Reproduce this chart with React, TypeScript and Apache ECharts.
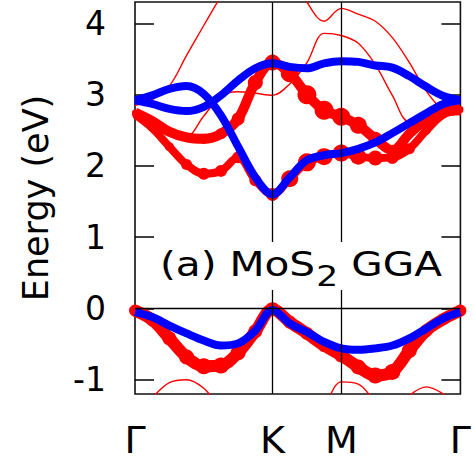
import React, { useEffect, useRef } from "react";
import * as echarts from "echarts";

const FONT = "DejaVu Sans";

// k-path sample points (Γ–K–M–Γ, path length units)
const kPath = [0, 0.1667, 0.3333, 0.5, 0.6667, 0.8333, 1.0, 1.1667, 1.3333, 1.5, 1.6667, 1.8333, 2.0, 2.165, 2.33, 2.495, 2.66, 2.825, 2.99, 3.155];
const symPoints = [0, 1.3333, 2.0, 3.155];
const symLabels = ["Γ", "K", "M", "Γ"];
const energyTicks = [-1, 0, 1, 2, 3, 4];

// blue bands
const blueValence = [-0.05, -0.12, -0.24, -0.35, -0.45, -0.52, -0.49, -0.31, -0.02, -0.21, -0.33, -0.47, -0.56, -0.58, -0.56, -0.52, -0.42, -0.28, -0.14, -0.05];
const blueCondA = [2.92, 2.99, 3.08, 3.12, 3.01, 2.71, 2.27, 1.84, 1.6, 1.84, 2.08, 2.15, 2.18, 2.24, 2.33, 2.46, 2.6, 2.74, 2.87, 2.92];
const blueCondB = [2.92, 2.87, 2.8, 2.77, 2.83, 2.99, 3.2, 3.37, 3.44, 3.39, 3.37, 3.44, 3.47, 3.46, 3.41, 3.38, 3.26, 3.11, 2.98, 2.92];

// red fat bands (energy + weight as marker diameter)
const redValence = [-0.03, -0.16, -0.42, -0.68, -0.81, -0.8, -0.62, -0.32, -0.01, -0.19, -0.35, -0.52, -0.66, -0.82, -0.94, -0.89, -0.59, -0.31, -0.15, -0.03];
const redValenceW = [12, 13, 14, 15, 16, 16, 15, 14, 14, 13, 13, 13, 14, 15, 16, 16, 15, 13, 12, 12];
const redCond1 = [2.72, 2.53, 2.27, 2.02, 1.89, 1.93, 2.12, 1.8, 1.6, 1.82, 2.05, 2.13, 2.18, 2.13, 2.11, 2.12, 2.24, 2.5, 2.72, 2.78];
const redCond1W = [6, 8, 9, 11, 12, 12, 12, 12, 13, 17, 18, 17, 17, 16, 15, 13, 11, 9, 7, 6];
const redCond2 = [2.75, 2.63, 2.48, 2.4, 2.38, 2.45, 2.66, 3.17, 3.45, 3.3, 3.0, 2.78, 2.69, 2.57, 2.38, 2.22, 2.45, 2.65, 2.76, 2.8];
const redCond2W = [6, 7, 8, 9, 10, 11, 13, 15, 16, 18, 19, 19, 18, 17, 14, 11, 9, 8, 7, 6];

// red thin bands
const redThin1 = [2.85, 2.93, 3.12, 3.55, 3.97, 4.38, 4.75, 4.95, 5.0, 4.75, 4.3, 4.03, 4.21, 4.13, 4.03, 3.8, 3.45, 3.05, 2.78, 2.72];
const redThin2 = [2.72, 2.58, 2.45, 2.42, 2.7, 2.98, 3.04, 3.02, 2.99, 3.15, 3.45, 3.86, 3.83, 3.72, 3.42, 2.99, 2.62, 2.62, 2.7, 2.72];
const redThinLow = [-1.5, -1.25, -1.04, -1.0, -1.12, -1.4, -1.6, -1.75, -1.85, -1.7, -1.5, -1.35, -1.03, -1.06, -1.3, -1.45, -1.22, -1.1, -1.2, -1.4];

const RED = "#ff0000";
const BLUE = "#0000ff";

const pts = (e: number[]) => kPath.map((k, i) => [k, e[i]]);

function thinSeries(e: number[], extra: any = {}) {
  return {
    type: "line",
    data: pts(e),
    smooth: 0.35,
    showSymbol: false,
    silent: true,
    z: 2,
    lineStyle: { color: RED, width: 1.4 },
    ...extra,
  };
}

function fatSeries(e: number[], w: number[], lw: number) {
  return {
    type: "line",
    data: pts(e),
    smooth: 0.35,
    showSymbol: true,
    showAllSymbol: true,
    symbol: "circle",
    symbolSize: (_v: any, p: any) => w[p.dataIndex],
    itemStyle: { color: RED, borderWidth: 0 },
    silent: true,
    z: 3,
    lineStyle: { color: RED, width: lw },
  };
}

function blueSeries(e: number[]) {
  return {
    type: "line",
    data: pts(e),
    smooth: 0.35,
    showSymbol: false,
    silent: true,
    z: 4,
    lineStyle: { color: BLUE, width: 8 },
  };
}

export default function App() {
  const ref = useRef<HTMLDivElement>(null);
  useEffect(() => {
    if (!ref.current) return;
    const chart = echarts.init(ref.current, undefined, { renderer: "svg" });
    const tickStyle = { color: "#000", width: 1.5 };
    const textStyle = { fontFamily: FONT, fill: "#000", verticalAlign: "middle", align: "left" };
    chart.setOption({
      animation: false,
      grid: {
        left: 135,
        right: 5,
        top: 2,
        bottom: 69,
        show: true,
        borderColor: "#111",
        borderWidth: 1.6,
        backgroundColor: "transparent",
      },
      xAxis: {
        type: "value",
        min: 0,
        max: 3.155,
        axisLine: { show: false },
        splitLine: { show: false },
        axisTick: { show: false },
        axisLabel: {
          customValues: symPoints,
          formatter: (v: number) => {
            const i = symPoints.findIndex((s) => Math.abs(s - v) < 1e-3);
            return i >= 0 ? symLabels[i] : "";
          },
          fontSize: 38,
          fontFamily: FONT,
          color: "#000",
          margin: 27,
        },
      },
      yAxis: [
        {
          type: "value",
          min: -1.2,
          max: 4.3,
          name: "Energy (eV)",
          nameLocation: "middle",
          nameGap: 82,
          nameTextStyle: { fontSize: 35, fontFamily: FONT, color: "#000" },
          axisLine: { show: false },
          splitLine: { show: false },
          axisTick: { show: true, inside: true, length: 19, customValues: energyTicks, lineStyle: tickStyle },
          axisLabel: { customValues: energyTicks, fontSize: 33, fontFamily: FONT, color: "#000", margin: 29 },
        },
        {
          type: "value",
          position: "right",
          min: -1.2,
          max: 4.3,
          axisLine: { show: false },
          splitLine: { show: false },
          axisTick: { show: true, inside: true, length: 19, customValues: energyTicks, lineStyle: tickStyle },
          axisLabel: { show: false },
        },
      ],
      series: [
        thinSeries(redThinLow, {
          markLine: {
            silent: true,
            symbol: ["none", "none"],
            label: { show: false },
            lineStyle: { color: "#000", width: 1.3, type: "solid" },
            data: [{ xAxis: symPoints[1] }, { xAxis: symPoints[2] }, { yAxis: 0 }],
          },
        }),
        thinSeries(redThin1),
        thinSeries(redThin2),
        fatSeries(redValence, redValenceW, 12),
        fatSeries(redCond1, redCond1W, 8),
        fatSeries(redCond2, redCond2W, 10),
        blueSeries(blueValence),
        blueSeries(blueCondA),
        blueSeries(blueCondB),
      ],
      graphic: [
        { type: "rect", z: 10, shape: { x: 152, y: 242, width: 298, height: 48 }, style: { fill: "#fff" } },
        {
          type: "group",
          x: 160,
          y: 0,
          scaleX: 1.23,
          z: 11,
          children: [
            { type: "text", z: 12, x: 0, y: 265, style: { ...textStyle, text: "(a) MoS", fontSize: 33 } },
            { type: "text", z: 12, x: 127, y: 276, style: { ...textStyle, text: "2", fontSize: 28 } },
            { type: "text", z: 12, x: 145, y: 265, style: { ...textStyle, text: " GGA", fontSize: 33 } },
          ],
        },
      ],
    });
    return () => chart.dispose();
  }, []);
  return <div ref={ref} style={{ width: 474, height: 463, position: "absolute", left: 0, top: 0 }} />;
}
